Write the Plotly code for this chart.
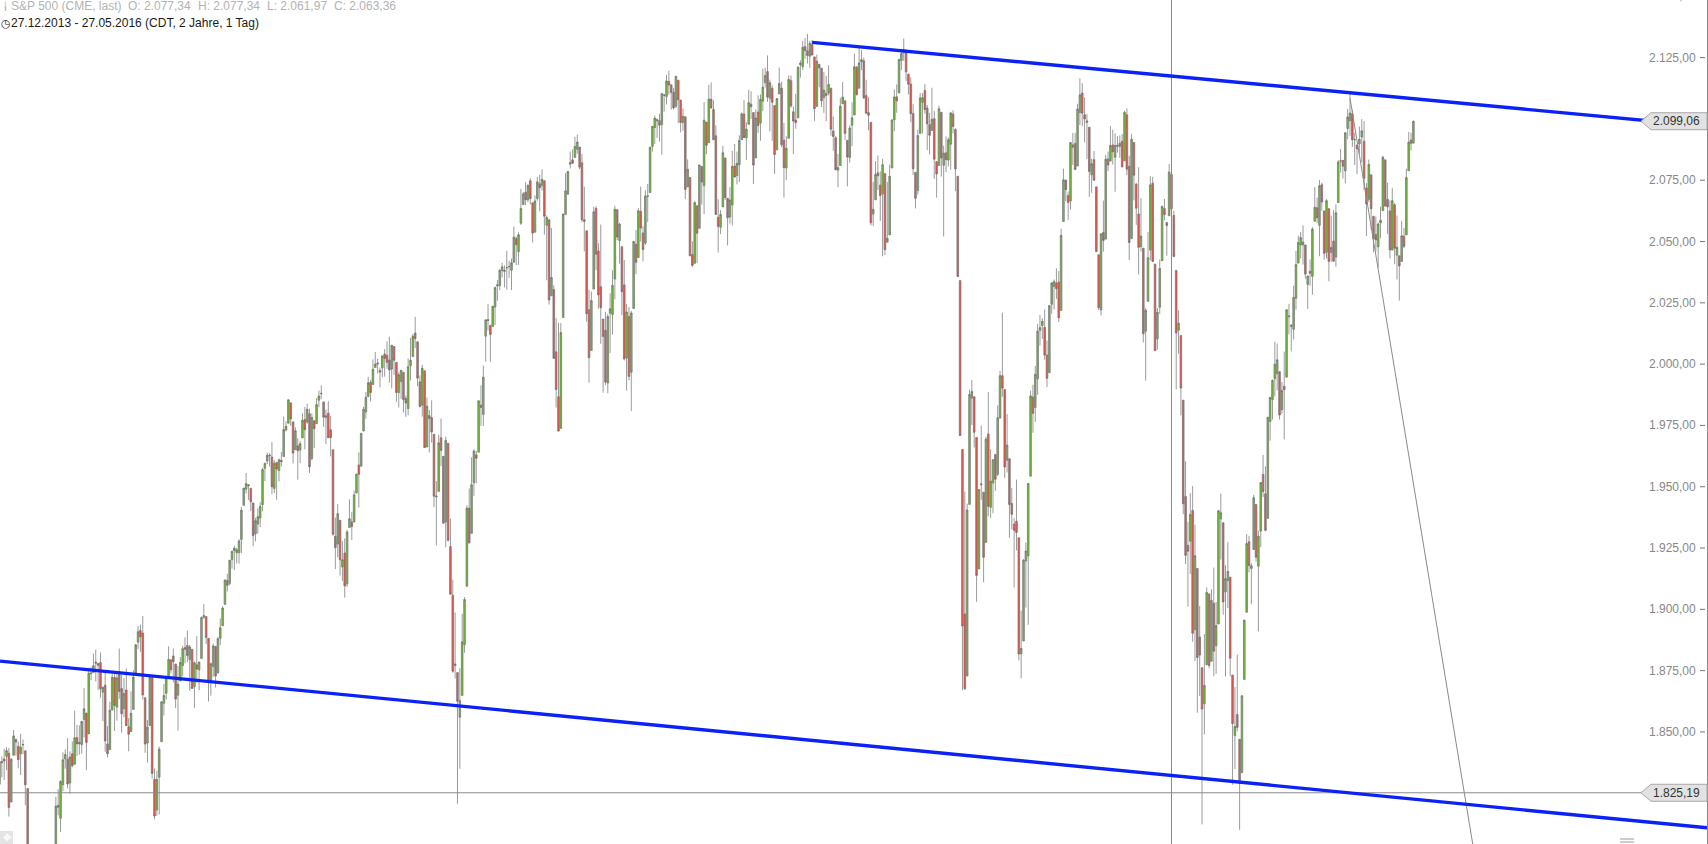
import plotly.graph_objects as go

# ---------------- DATA (S&P 500 daily, 02.01.2014 - 27.05.2016) ----------------
# trading-day slots: Jan 2 2014 is slot 3 (27./30./31.12.2013 occupy 0..2, scrolled out of view)
first_slot = 3

opens = [
    # 2014-01
    1845.9, 1833.2, 1832.3, 1828.7, 1837.9, 1839.0, 1840.1, 1841.3, 1821.4, 1840.5, 1847.0, 1844.2, 1841.1, 1844.7, 1842.3, 1826.9, 1791.0, 1783.8, 1790.2, 1777.2, 1790.9,
    # 2014-02
    1782.7, 1743.8, 1753.4, 1753.0, 1776.0, 1796.2, 1800.4, 1820.1, 1814.8, 1828.5, 1839.0, 1838.9, 1829.2, 1841.1, 1836.8, 1847.7, 1845.8, 1844.9, 1855.1,
    # 2014-03
    1857.7, 1849.2, 1874.1, 1874.2, 1878.5, 1877.9, 1878.3, 1866.2, 1869.1, 1845.1, 1842.8, 1858.9, 1872.3, 1860.1, 1874.5, 1867.7, 1859.5, 1867.1, 1852.1, 1850.1, 1859.2,
    # 2014-04
    1874.0, 1886.6, 1891.4, 1890.3, 1863.9, 1845.5, 1852.6, 1872.3, 1830.7, 1818.2, 1831.5, 1846.0, 1861.7, 1865.8, 1872.6, 1879.3, 1881.0, 1877.7, 1865.0, 1870.8, 1877.1,
    # 2014-05
    1884.4, 1885.3, 1879.5, 1883.7, 1868.5, 1877.4, 1875.3, 1880.0, 1896.8, 1897.1, 1888.2, 1871.2, 1876.7, 1884.9, 1874.0, 1888.2, 1893.3, 1902.0, 1911.8, 1910.6, 1920.3,
    # 2014-06
    1923.9, 1923.1, 1923.1, 1928.5, 1942.4, 1949.0, 1950.3, 1949.4, 1943.4, 1930.8, 1934.8, 1937.2, 1942.7, 1957.5, 1960.5, 1962.9, 1962.1, 1949.3, 1959.9, 1956.6, 1960.8,
    # 2014-07
    1962.3, 1973.1, 1975.9, 1984.2, 1976.4, 1965.1, 1966.7, 1965.0, 1969.9, 1977.4, 1976.4, 1979.8, 1961.5, 1976.9, 1975.7, 1985.3, 1988.1, 1984.6, 1978.3, 1980.0, 1973.2, 1965.1,
    # 2014-08
    1929.8, 1926.6, 1936.3, 1917.3, 1923.0, 1910.4, 1933.4, 1935.7, 1935.6, 1947.4, 1958.9, 1958.4, 1972.7, 1980.5, 1986.8, 1992.6, 1991.7, 1998.6, 2000.5, 1997.4, 1998.5,
    # 2014-09
    2004.1, 2003.6, 2001.7, 1998.0, 2007.2, 2000.7, 1988.4, 1992.9, 1996.7, 1986.0, 1981.9, 1999.3, 2003.1, 2012.7, 2009.1, 1992.8, 1983.3, 1997.3, 1966.2, 1979.0, 1978.2,
    # 2014-10
    1971.4, 1945.8, 1948.1, 1970.0, 1962.4, 1935.6, 1967.7, 1925.6, 1905.7, 1877.1, 1874.2, 1856.0, 1864.9, 1885.6, 1909.4, 1941.3, 1931.0, 1951.6, 1963.0, 1964.1, 1983.3, 1979.5, 2011.4,
    # 2014-11
    2018.2, 2015.8, 2015.3, 2023.3, 2032.4, 2032.0, 2038.2, 2037.8, 2039.2, 2039.7, 2038.3, 2041.5, 2051.2, 2045.9, 2057.5, 2065.1, 2070.1, 2067.0, 2074.8,
    # 2014-12
    2065.8, 2053.8, 2067.5, 2073.6, 2072.8, 2074.8, 2056.6, 2058.9, 2027.9, 2030.4, 2005.0, 1986.7, 1973.8, 2019.0, 2061.0, 2069.3, 2081.5, 2083.3, 2084.3, 2087.6, 2088.5, 2082.1,
    # 2015-01
    2058.9, 2054.4, 2022.2, 2005.6, 2030.6, 2063.5, 2046.1, 2031.6, 2018.4, 2013.8, 1992.3, 2020.8, 2020.2, 2034.7, 2063.0, 2050.4, 2047.9, 2032.3, 2002.5, 2019.4,
    # 2015-02
    1996.7, 2022.7, 2048.9, 2043.5, 2062.3, 2053.5, 2049.4, 2068.6, 2070.0, 2088.8, 2096.5, 2099.2, 2099.3, 2097.7, 2109.8, 2109.1, 2115.3, 2113.9, 2110.9,
    # 2015-03
    2105.2, 2115.8, 2107.7, 2098.5, 2100.9, 2072.3, 2076.1, 2044.7, 2041.1, 2064.6, 2055.4, 2080.6, 2072.8, 2098.7, 2090.3, 2108.0, 2103.9, 2093.1, 2059.9, 2055.8, 2064.1, 2084.1,
    # 2015-04
    2067.6, 2060.0, 2064.9, 2080.8, 2076.9, 2081.3, 2091.5, 2102.0, 2092.3, 2097.8, 2106.0, 2102.6, 2084.1, 2102.8, 2098.3, 2107.2, 2114.8, 2119.3, 2108.4, 2112.5, 2105.5,
    # 2015-05
    2087.4, 2110.2, 2112.6, 2091.3, 2080.0, 2092.1, 2115.6, 2102.9, 2099.6, 2100.4, 2122.1, 2121.3, 2129.5, 2127.8, 2125.6, 2130.4, 2125.3, 2105.1, 2122.3, 2120.7,
    # 2015-06
    2108.6, 2110.4, 2110.6, 2112.4, 2095.1, 2092.3, 2079.1, 2081.0, 2106.2, 2107.4, 2091.3, 2084.3, 2097.4, 2101.6, 2121.1, 2112.5, 2123.2, 2123.7, 2109.6, 2102.6, 2098.6, 2061.2,
    # 2015-07
    2067.0, 2078.0, 2073.0, 2069.5, 2077.7, 2049.7, 2052.7, 2080.0, 2099.7, 2109.0, 2110.6, 2123.8, 2126.9, 2127.6, 2118.2, 2114.2, 2102.2, 2078.2, 2070.8, 2094.1, 2106.8, 2111.6,
    # 2015-08
    2104.5, 2097.7, 2095.3, 2100.1, 2082.6, 2081.0, 2102.7, 2081.1, 2086.2, 2083.2, 2089.7, 2102.0, 2095.7, 2076.6, 2034.1, 1965.2, 1898.1, 1872.8, 1942.8, 1986.1, 1986.7,
    # 2015-09
    1970.1, 1916.5, 1950.8, 1947.8, 1927.3, 1971.5, 1941.6, 1951.5, 1963.1, 1955.1, 1978.0, 1995.3, 1989.7, 1960.8, 1961.4, 1943.2, 1934.8, 1935.9, 1929.2, 1881.9, 1887.1,
    # 2015-10
    1919.7, 1921.8, 1954.3, 1986.6, 1982.3, 1994.0, 2013.7, 2015.7, 2015.0, 2003.7, 1996.5, 2024.4, 2031.7, 2033.1, 2033.5, 2021.9, 2058.2, 2075.1, 2068.8, 2066.5, 2088.4, 2090.0,
    # 2015-11
    2080.8, 2102.6, 2110.6, 2101.7, 2098.6, 2096.6, 2077.2, 2083.4, 2072.3, 2044.6, 2022.1, 2053.7, 2051.0, 2083.7, 2082.8, 2089.4, 2084.4, 2089.3, 2088.8, 2090.9,
    # 2015-12
    2082.9, 2101.7, 2080.7, 2051.2, 2090.4, 2073.4, 2061.2, 2047.9, 2047.3, 2013.4, 2025.6, 2046.5, 2073.8, 2040.8, 2010.3, 2023.2, 2042.2, 2063.5, 2057.8, 2060.5, 2077.34, 2060.6,
    # 2016-01
    2038.2, 2013.8, 2011.7, 1985.3, 1946.0, 1926.1, 1927.8, 1940.3, 1891.7, 1916.7, 1888.7, 1876.2, 1861.5, 1877.4, 1906.3, 1878.8, 1902.5, 1885.2, 1894.0,
    # 2016-02
    1936.9, 1935.3, 1907.1, 1911.7, 1913.1, 1873.2, 1848.5, 1857.1, 1847.0, 1833.4, 1871.4, 1898.8, 1927.6, 1916.7, 1924.4, 1942.8, 1917.6, 1931.9, 1955.0, 1947.1,
    # 2016-03
    1937.1, 1976.6, 1985.6, 1994.0, 1996.1, 1996.9, 1981.4, 1991.0, 1994.7, 2019.3, 2015.3, 2014.2, 2026.9, 2041.2, 2048.6, 2048.6, 2048.6, 2032.5, 2037.9, 2035.8, 2058.3, 2063.8,
    # 2016-04
    2056.6, 2073.2, 2062.5, 2045.6, 2063.4, 2045.5, 2050.2, 2043.7, 2065.9, 2082.9, 2083.1, 2078.8, 2096.1, 2099.3, 2102.1, 2091.5, 2089.4, 2089.8, 2092.6, 2090.9, 2071.8,
    # 2016-05
    2067.2, 2077.2, 2060.3, 2052.9, 2047.8, 2057.6, 2062.6, 2083.3, 2067.2, 2062.5, 2046.5, 2065.0, 2044.4, 2044.2, 2041.9, 2052.2, 2052.7, 2078.9, 2091.4, 2090.1,
]

highs = [
    1845.9, 1838.2, 1837.2, 1840.1, 1840.0, 1843.2, 1843.8, 1843.5, 1839.3, 1850.8, 1847.0, 1846.0, 1849.3, 1846.9, 1842.3, 1826.9, 1795.9, 1793.9, 1790.2, 1798.8, 1793.9,
    1784.8, 1758.7, 1755.8, 1774.1, 1798.0, 1799.9, 1823.5, 1826.6, 1830.3, 1841.7, 1842.9, 1847.5, 1842.1, 1846.1, 1858.7, 1852.9, 1852.7, 1854.5, 1867.9,
    1857.7, 1876.2, 1876.5, 1881.9, 1883.6, 1877.9, 1882.4, 1868.4, 1874.4, 1852.4, 1862.3, 1873.8, 1874.1, 1873.5, 1884.0, 1873.3, 1871.9, 1875.9, 1855.6, 1866.6, 1875.2,
    1885.8, 1893.2, 1893.8, 1897.3, 1864.0, 1854.9, 1872.4, 1872.5, 1835.1, 1834.2, 1844.0, 1862.4, 1869.6, 1871.9, 1884.9, 1879.8, 1884.1, 1877.7, 1877.0, 1880.6, 1885.2,
    1888.6, 1891.3, 1885.5, 1883.7, 1878.8, 1889.1, 1878.6, 1897.1, 1902.2, 1897.1, 1888.2, 1878.3, 1886.0, 1884.9, 1888.8, 1896.3, 1901.3, 1912.3, 1914.5, 1920.1, 1924.0,
    1925.9, 1925.1, 1928.6, 1941.7, 1949.5, 1955.6, 1950.9, 1949.4, 1943.4, 1937.3, 1941.2, 1943.7, 1957.7, 1959.9, 1963.9, 1963.7, 1968.2, 1960.8, 1959.9, 1961.5, 1964.2,
    1978.6, 1976.7, 1985.6, 1984.2, 1976.7, 1974.2, 1969.8, 1968.7, 1979.9, 1982.5, 1983.9, 1981.8, 1979.9, 1976.9, 1986.2, 1989.2, 1991.4, 1984.6, 1981.5, 1984.9, 1978.9, 1965.1,
    1937.4, 1942.9, 1936.3, 1927.9, 1928.9, 1932.4, 1944.9, 1939.7, 1948.4, 1955.2, 1964.0, 1972.0, 1982.6, 1988.6, 1994.8, 1993.5, 2001.9, 2005.0, 2002.1, 1998.6, 2003.4,
    2006.1, 2009.3, 2011.2, 2007.8, 2007.2, 2001.0, 1996.7, 1997.7, 1996.7, 1987.2, 2002.3, 2010.7, 2012.3, 2019.3, 2009.1, 1995.4, 1999.8, 1997.3, 1986.4, 1981.3, 1985.2,
    1971.4, 1952.3, 1971.2, 1977.8, 1962.4, 1970.4, 1967.7, 1937.0, 1912.1, 1898.7, 1874.2, 1876.0, 1898.2, 1905.0, 1942.5, 1949.3, 1962.0, 1965.3, 1964.6, 1985.1, 1991.4, 1999.4, 2018.2,
    2024.5, 2016.0, 2023.8, 2031.6, 2034.3, 2038.7, 2041.3, 2040.3, 2046.2, 2042.2, 2043.1, 2056.1, 2052.1, 2053.8, 2071.5, 2070.2, 2074.2, 2073.4, 2075.8,
    2065.8, 2068.8, 2076.3, 2077.3, 2079.5, 2074.8, 2060.6, 2058.9, 2055.5, 2032.2, 2018.7, 2016.9, 2016.8, 2061.3, 2077.9, 2078.8, 2086.7, 2087.6, 2092.7, 2093.6, 2088.5, 2085.7,
    2072.4, 2054.4, 2030.3, 2029.6, 2064.1, 2064.4, 2049.3, 2056.9, 2018.4, 2021.4, 2020.5, 2028.9, 2038.3, 2064.6, 2063.0, 2057.6, 2047.9, 2042.5, 2024.6, 2023.3,
    2021.7, 2050.3, 2054.7, 2063.6, 2072.4, 2056.2, 2070.9, 2073.5, 2088.5, 2097.0, 2101.3, 2100.2, 2102.1, 2110.6, 2110.1, 2117.9, 2119.6, 2113.9, 2112.7,
    2117.5, 2115.8, 2107.7, 2104.3, 2100.9, 2083.5, 2076.1, 2050.1, 2066.4, 2064.6, 2081.4, 2080.6, 2106.9, 2098.7, 2113.9, 2114.9, 2107.6, 2097.4, 2067.2, 2062.8, 2089.0, 2084.1,
    2067.6, 2072.2, 2087.0, 2089.8, 2086.7, 2093.3, 2102.6, 2107.7, 2098.6, 2111.9, 2111.3, 2102.6, 2103.9, 2109.6, 2110.0, 2120.5, 2120.9, 2125.9, 2116.0, 2113.7, 2105.5,
    2108.4, 2121.0, 2115.2, 2098.4, 2092.9, 2117.7, 2117.7, 2105.1, 2110.2, 2121.5, 2123.9, 2131.8, 2133.0, 2134.7, 2131.8, 2132.2, 2125.3, 2126.2, 2122.3, 2120.7,
    2119.2, 2117.6, 2121.9, 2112.9, 2101.0, 2093.0, 2085.7, 2108.5, 2115.0, 2107.4, 2091.3, 2097.4, 2106.8, 2126.6, 2121.6, 2129.9, 2128.0, 2125.1, 2116.0, 2108.9, 2098.6, 2074.3,
    2082.8, 2085.1, 2078.6, 2083.7, 2077.7, 2074.3, 2081.3, 2099.9, 2112.0, 2114.1, 2124.4, 2128.6, 2132.8, 2128.4, 2118.5, 2116.9, 2106.0, 2078.2, 2095.6, 2110.6, 2110.5, 2114.2,
    2105.7, 2102.5, 2112.7, 2103.3, 2082.6, 2105.4, 2102.7, 2089.1, 2092.9, 2092.5, 2102.9, 2103.5, 2096.2, 2076.6, 2034.1, 1965.2, 1948.0, 1943.1, 1989.6, 1993.5, 1986.7,
    1970.1, 1948.9, 1975.0, 1947.8, 1970.4, 1988.6, 1965.3, 1961.1, 1963.1, 1983.2, 1997.3, 2020.9, 1989.7, 1979.6, 1961.4, 1949.5, 1937.2, 1952.9, 1929.2, 1899.5, 1920.5,
    1927.2, 1951.4, 1989.2, 1991.6, 1999.3, 2016.5, 2020.1, 2018.7, 2022.3, 2009.6, 2024.2, 2033.5, 2034.5, 2039.1, 2038.0, 2055.2, 2079.7, 2075.1, 2070.4, 2090.4, 2094.3, 2094.3,
    2106.2, 2116.5, 2114.6, 2108.8, 2101.9, 2096.6, 2083.7, 2086.9, 2072.3, 2044.6, 2053.2, 2066.7, 2085.3, 2086.7, 2097.1, 2095.6, 2094.1, 2093.0, 2093.3, 2093.8,
    2103.4, 2104.3, 2085.0, 2093.8, 2090.4, 2073.9, 2080.3, 2067.7, 2047.3, 2022.9, 2053.9, 2076.7, 2076.4, 2040.8, 2022.9, 2042.7, 2064.7, 2067.4, 2057.8, 2081.6, 2077.34, 2062.5,
    2038.2, 2021.9, 2011.7, 1985.3, 1960.4, 1935.7, 1947.4, 1950.3, 1934.5, 1916.7, 1901.4, 1876.2, 1889.9, 1908.9, 1906.3, 1908.2, 1917.0, 1903.0, 1940.3,
    1947.2, 1935.3, 1918.0, 1927.4, 1913.1, 1873.2, 1868.3, 1881.6, 1847.0, 1864.8, 1895.8, 1930.7, 1930.0, 1918.8, 1946.7, 1942.8, 1932.1, 1951.8, 1963.0, 1958.3,
    1978.4, 1986.5, 1993.7, 2009.1, 2008.4, 1996.9, 1992.7, 2005.1, 2022.4, 2024.6, 2016.3, 2032.0, 2046.2, 2052.4, 2053.9, 2056.6, 2048.6, 2036.0, 2042.7, 2055.9, 2072.2, 2067.9,
    2075.1, 2074.0, 2062.5, 2067.3, 2063.4, 2060.6, 2062.9, 2065.1, 2083.2, 2087.8, 2083.2, 2094.7, 2104.1, 2111.1, 2103.8, 2094.3, 2089.4, 2096.9, 2099.9, 2099.1, 2073.8,
    2083.4, 2077.2, 2060.3, 2060.2, 2057.7, 2064.2, 2084.9, 2083.3, 2074.0, 2066.8, 2071.9, 2065.7, 2060.6, 2044.2, 2058.4, 2055.6, 2079.7, 2094.7, 2094.3, 2099.3,
]

lows = [
    1827.7, 1829.1, 1823.7, 1828.7, 1831.4, 1830.4, 1834.4, 1815.5, 1821.4, 1840.5, 1840.3, 1835.2, 1832.4, 1840.9, 1820.1, 1790.2, 1772.9, 1783.8, 1770.5, 1777.2, 1772.3,
    1739.7, 1743.8, 1737.9, 1753.0, 1776.0, 1791.8, 1800.4, 1816.0, 1809.2, 1825.8, 1835.0, 1827.0, 1824.9, 1835.6, 1836.8, 1840.2, 1840.7, 1841.1, 1847.7,
    1834.4, 1849.2, 1871.1, 1874.2, 1870.6, 1867.0, 1863.9, 1854.4, 1841.9, 1839.6, 1842.8, 1858.9, 1850.4, 1854.6, 1863.5, 1849.7, 1856.0, 1852.5, 1842.1, 1850.1, 1859.2,
    1874.0, 1883.8, 1882.7, 1863.3, 1841.5, 1837.5, 1852.4, 1830.9, 1814.4, 1815.8, 1816.3, 1846.0, 1856.7, 1863.2, 1872.6, 1873.9, 1870.2, 1859.7, 1850.6, 1870.8, 1872.7,
    1878.0, 1878.5, 1866.8, 1867.7, 1859.8, 1870.1, 1867.0, 1880.0, 1896.1, 1885.8, 1862.4, 1864.8, 1872.4, 1868.1, 1874.0, 1885.4, 1893.3, 1902.0, 1907.3, 1909.8, 1916.6,
    1916.0, 1918.8, 1918.6, 1922.9, 1942.4, 1947.2, 1944.6, 1940.1, 1925.8, 1927.7, 1930.9, 1933.6, 1940.0, 1952.3, 1959.2, 1958.2, 1947.0, 1947.5, 1944.7, 1952.2, 1958.2,
    1962.3, 1972.6, 1975.9, 1974.9, 1959.5, 1965.1, 1952.9, 1959.6, 1969.9, 1965.3, 1975.7, 1955.6, 1960.8, 1965.8, 1975.7, 1982.4, 1985.8, 1974.4, 1967.3, 1969.9, 1962.4, 1930.0,
    1916.4, 1921.2, 1913.8, 1911.5, 1904.8, 1909.0, 1933.4, 1928.3, 1935.6, 1947.4, 1941.5, 1958.4, 1972.7, 1977.7, 1986.8, 1984.8, 1991.7, 1998.6, 1996.2, 1990.5, 1994.7,
    1994.9, 1998.1, 1992.5, 1990.1, 1995.6, 1984.6, 1982.3, 1985.9, 1980.3, 1978.5, 1979.1, 1993.3, 2003.1, 2006.6, 1991.0, 1982.3, 1978.6, 1965.9, 1966.2, 1964.0, 1968.0,
    1941.7, 1926.0, 1948.1, 1958.4, 1935.1, 1925.3, 1927.6, 1906.1, 1874.1, 1871.8, 1820.7, 1835.0, 1864.9, 1882.3, 1909.4, 1926.8, 1931.0, 1946.3, 1951.4, 1964.1, 1974.8, 1974.8, 2001.0,
    2013.7, 2001.0, 2015.3, 2015.9, 2025.8, 2030.2, 2035.3, 2031.3, 2030.4, 2035.2, 2030.2, 2041.5, 2040.4, 2040.5, 2056.8, 2065.1, 2064.8, 2066.0, 2065.1,
    2049.6, 2053.8, 2066.6, 2062.3, 2070.8, 2052.8, 2034.2, 2024.3, 2027.9, 2002.3, 1982.3, 1972.6, 1973.8, 2019.0, 2061.0, 2069.3, 2079.8, 2081.8, 2084.3, 2085.8, 2079.5, 2057.9,
    2046.0, 2017.3, 1992.4, 2005.6, 2030.6, 2038.3, 2022.6, 2008.3, 1988.4, 1991.5, 1988.1, 2004.5, 2012.0, 2026.4, 2050.5, 2041.0, 2019.9, 2001.5, 1989.2, 1993.4,
    1980.9, 2022.7, 2036.7, 2043.5, 2050.0, 2041.9, 2048.6, 2058.0, 2070.0, 2086.7, 2089.8, 2092.2, 2090.8, 2085.4, 2103.0, 2105.9, 2109.9, 2103.8, 2103.8,
    2104.5, 2098.3, 2094.5, 2095.2, 2067.3, 2072.2, 2044.1, 2039.7, 2041.1, 2041.2, 2055.4, 2065.1, 2061.2, 2085.6, 2090.3, 2104.4, 2091.5, 2061.0, 2045.5, 2053.0, 2064.1, 2067.0,
    2048.4, 2057.3, 2056.5, 2076.1, 2073.3, 2074.3, 2091.5, 2092.3, 2083.2, 2097.8, 2100.0, 2073.5, 2084.1, 2094.4, 2091.1, 2103.2, 2112.8, 2107.0, 2094.9, 2091.1, 2077.6,
    2087.4, 2110.2, 2088.5, 2067.9, 2075.0, 2092.1, 2104.6, 2085.6, 2096.0, 2100.4, 2116.8, 2120.0, 2124.5, 2122.6, 2120.9, 2126.0, 2099.2, 2105.1, 2112.9, 2104.9,
    2102.5, 2099.1, 2109.6, 2093.2, 2087.0, 2079.1, 2072.1, 2081.0, 2106.2, 2091.3, 2072.5, 2082.1, 2088.9, 2101.6, 2109.5, 2112.5, 2119.9, 2108.2, 2102.0, 2095.4, 2056.6, 2056.3,
    2067.0, 2071.0, 2058.4, 2044.0, 2044.5, 2049.7, 2052.7, 2080.0, 2095.0, 2102.5, 2110.6, 2119.9, 2123.7, 2115.4, 2110.0, 2098.6, 2077.1, 2063.5, 2069.1, 2094.1, 2094.1, 2102.1,
    2087.3, 2085.5, 2095.3, 2075.5, 2067.9, 2081.0, 2076.5, 2052.1, 2078.3, 2080.6, 2079.3, 2094.1, 2070.5, 2035.7, 1970.8, 1867.0, 1867.1, 1872.8, 1942.8, 1975.2, 1966.0,
    1903.1, 1916.5, 1944.7, 1911.0, 1927.3, 1937.9, 1937.2, 1939.2, 1948.3, 1954.3, 1977.9, 1986.7, 1953.5, 1955.8, 1929.2, 1932.6, 1908.9, 1924.0, 1879.2, 1871.9, 1887.1,
    1900.7, 1893.7, 1954.3, 1972.0, 1976.4, 1987.5, 2007.6, 2010.3, 2001.8, 1990.7, 1996.5, 2020.5, 2022.3, 2026.6, 2017.2, 2021.9, 2058.2, 2066.5, 2058.8, 2063.1, 2081.2, 2079.3,
    2080.8, 2097.5, 2097.0, 2090.4, 2083.7, 2068.2, 2069.9, 2074.9, 2045.7, 2022.0, 2019.9, 2045.9, 2051.0, 2078.8, 2082.8, 2081.4, 2070.3, 2086.3, 2084.1, 2080.4,
    2082.9, 2077.1, 2042.4, 2051.2, 2066.8, 2056.8, 2036.5, 2045.9, 2008.8, 1993.3, 2025.6, 2042.4, 2041.7, 2005.3, 2005.9, 2020.5, 2042.2, 2058.7, 2044.2, 2060.5, 2061.97, 2043.6,
    1989.7, 2004.2, 1979.1, 1938.8, 1918.5, 1901.1, 1914.4, 1886.8, 1878.9, 1857.8, 1864.6, 1812.3, 1849.0, 1877.4, 1876.0, 1878.8, 1872.7, 1873.7, 1894.0,
    1920.3, 1897.8, 1872.7, 1900.5, 1872.7, 1828.5, 1834.9, 1850.3, 1810.1, 1833.4, 1871.4, 1898.8, 1915.1, 1902.2, 1924.4, 1919.4, 1891.0, 1925.4, 1945.8, 1931.8,
    1937.1, 1968.8, 1977.4, 1986.8, 1989.3, 1977.4, 1979.8, 1969.3, 1994.7, 2012.1, 2005.2, 2010.0, 2022.2, 2041.2, 2043.1, 2040.6, 2034.9, 2022.5, 2031.9, 2028.3, 2058.3, 2057.5,
    2044.0, 2062.6, 2042.6, 2043.1, 2033.8, 2041.7, 2041.9, 2039.7, 2065.9, 2078.1, 2075.7, 2073.7, 2091.7, 2093.1, 2088.5, 2081.2, 2077.5, 2085.8, 2082.3, 2070.9, 2052.3,
    2066.1, 2054.9, 2045.6, 2045.8, 2039.5, 2051.3, 2062.6, 2064.4, 2053.1, 2043.1, 2046.5, 2040.8, 2034.5, 2025.9, 2041.9, 2047.3, 2052.7, 2078.9, 2087.1, 2090.1,
]

closes = [
    1831.98, 1831.37, 1826.77, 1837.88, 1837.49, 1838.13, 1842.37, 1819.20, 1838.88, 1848.38, 1845.89, 1838.70, 1843.80, 1844.86, 1828.46, 1790.29, 1781.56, 1792.50, 1774.20, 1794.19, 1782.59,
    1741.89, 1755.20, 1751.64, 1773.43, 1797.02, 1799.84, 1819.75, 1819.26, 1829.83, 1838.63, 1840.76, 1828.75, 1839.78, 1836.25, 1847.61, 1845.12, 1845.16, 1854.29, 1859.45,
    1845.73, 1873.91, 1873.81, 1877.03, 1878.04, 1877.17, 1867.63, 1868.20, 1846.34, 1841.13, 1858.83, 1872.25, 1860.77, 1872.01, 1866.52, 1857.44, 1865.62, 1852.56, 1849.04, 1857.62, 1872.34,
    1885.52, 1890.90, 1888.77, 1865.09, 1845.04, 1851.96, 1872.18, 1833.08, 1815.69, 1830.61, 1842.98, 1862.31, 1864.85, 1871.89, 1879.55, 1875.39, 1878.61, 1863.40, 1869.43, 1878.33, 1883.95,
    1883.68, 1881.14, 1884.66, 1867.72, 1878.21, 1875.63, 1878.48, 1896.65, 1897.45, 1888.53, 1870.85, 1877.86, 1885.08, 1872.83, 1888.03, 1892.49, 1900.53, 1911.91, 1909.78, 1920.03, 1923.57,
    1924.97, 1924.24, 1927.88, 1940.46, 1949.44, 1951.27, 1950.79, 1943.89, 1930.11, 1936.16, 1937.78, 1941.99, 1956.98, 1959.48, 1962.87, 1962.61, 1949.98, 1959.53, 1957.22, 1960.96, 1960.23,
    1973.32, 1974.62, 1985.44, 1977.65, 1963.71, 1972.83, 1964.68, 1967.57, 1977.10, 1973.28, 1981.57, 1958.12, 1978.22, 1973.63, 1983.53, 1987.01, 1987.98, 1978.34, 1978.91, 1969.95, 1970.07, 1930.67,
    1925.15, 1938.99, 1920.21, 1920.24, 1909.57, 1931.59, 1936.92, 1933.75, 1946.72, 1955.18, 1955.06, 1971.74, 1981.60, 1986.51, 1992.37, 1988.40, 1997.92, 2000.02, 2000.12, 1996.74, 2003.37,
    2002.28, 2000.72, 1997.65, 2007.71, 2001.54, 1988.44, 1995.69, 1997.45, 1985.54, 1984.13, 1998.98, 2001.57, 2011.36, 2010.40, 1994.29, 1982.77, 1998.30, 1965.99, 1982.85, 1977.80, 1972.29,
    1946.16, 1946.17, 1967.90, 1964.82, 1935.10, 1968.89, 1928.21, 1906.13, 1874.74, 1877.70, 1862.49, 1862.76, 1886.76, 1904.01, 1941.28, 1927.11, 1950.82, 1964.58, 1961.63, 1985.05, 1982.30, 1994.65, 2018.05,
    2017.81, 2012.10, 2023.57, 2031.21, 2031.92, 2038.26, 2039.68, 2038.25, 2039.33, 2039.82, 2041.32, 2051.80, 2048.72, 2052.75, 2063.50, 2069.41, 2067.03, 2072.83, 2067.56,
    2053.44, 2066.55, 2074.33, 2071.92, 2075.37, 2060.31, 2059.82, 2026.14, 2035.33, 2002.33, 1989.63, 1972.74, 2012.89, 2061.23, 2070.65, 2078.54, 2082.17, 2081.88, 2088.77, 2090.57, 2080.35, 2058.90,
    2058.20, 2020.58, 2002.61, 2025.90, 2062.14, 2044.81, 2028.26, 2023.03, 2011.27, 1992.67, 2019.42, 2022.55, 2032.12, 2063.15, 2051.82, 2057.09, 2029.55, 2002.16, 2021.25, 1994.99,
    2020.85, 2050.03, 2041.51, 2062.52, 2055.47, 2046.74, 2068.59, 2068.53, 2088.48, 2096.99, 2100.34, 2099.68, 2097.45, 2110.30, 2109.66, 2115.48, 2113.86, 2110.74, 2104.50,
    2117.39, 2107.78, 2098.53, 2101.04, 2071.26, 2079.43, 2044.16, 2040.24, 2065.95, 2053.40, 2081.19, 2074.28, 2099.50, 2089.27, 2108.10, 2104.42, 2091.50, 2061.05, 2056.15, 2061.02, 2086.24, 2067.89,
    2059.69, 2066.96, 2080.62, 2076.33, 2081.90, 2091.18, 2102.06, 2092.43, 2095.84, 2106.63, 2104.99, 2081.18, 2100.40, 2097.29, 2107.96, 2112.93, 2117.69, 2108.92, 2114.76, 2106.85, 2085.51,
    2108.29, 2114.49, 2089.46, 2080.15, 2088.00, 2116.10, 2105.33, 2099.12, 2098.48, 2121.10, 2122.73, 2129.20, 2127.83, 2125.85, 2130.82, 2126.06, 2104.20, 2123.48, 2120.79, 2107.39,
    2111.73, 2109.60, 2114.07, 2095.84, 2092.83, 2079.28, 2080.15, 2105.20, 2108.86, 2094.11, 2084.43, 2096.29, 2100.44, 2121.24, 2109.99, 2122.85, 2124.20, 2108.58, 2102.31, 2101.49, 2057.64, 2063.11,
    2077.42, 2076.78, 2068.76, 2081.34, 2046.68, 2051.31, 2076.62, 2099.60, 2108.95, 2107.40, 2124.29, 2126.64, 2128.28, 2119.21, 2114.15, 2102.15, 2079.65, 2067.64, 2093.25, 2108.57, 2108.63, 2103.84,
    2098.04, 2093.32, 2099.84, 2083.56, 2077.57, 2104.18, 2084.07, 2086.05, 2083.39, 2091.54, 2102.44, 2096.92, 2079.61, 2035.73, 1970.89, 1893.21, 1867.61, 1940.51, 1987.66, 1988.87, 1972.18,
    1913.85, 1948.86, 1951.13, 1921.22, 1969.41, 1942.04, 1952.29, 1961.05, 1953.03, 1978.09, 1995.31, 1990.20, 1958.03, 1966.97, 1942.74, 1938.76, 1932.24, 1931.34, 1881.77, 1884.09, 1920.03,
    1923.82, 1951.36, 1987.05, 1979.92, 1995.83, 2013.43, 2014.89, 2017.46, 2003.69, 1994.24, 2023.86, 2033.11, 2033.66, 2030.77, 2018.94, 2052.51, 2075.15, 2071.18, 2065.89, 2090.35, 2089.41, 2079.36,
    2104.05, 2109.79, 2102.31, 2099.93, 2099.20, 2078.58, 2081.72, 2075.00, 2045.97, 2023.04, 2053.19, 2050.44, 2083.58, 2081.24, 2089.17, 2086.59, 2089.14, 2088.87, 2090.11, 2080.41,
    2102.63, 2079.51, 2049.62, 2091.69, 2077.07, 2063.59, 2047.62, 2052.23, 2012.37, 2021.94, 2043.41, 2073.07, 2041.89, 2005.55, 2021.15, 2038.97, 2064.29, 2060.99, 2056.50, 2078.36, 2063.36, 2043.94,
    2012.66, 2016.71, 1990.26, 1943.09, 1922.03, 1923.67, 1938.68, 1890.28, 1921.84, 1880.33, 1881.33, 1859.33, 1868.99, 1906.90, 1877.08, 1903.63, 1882.95, 1893.36, 1940.24,
    1939.38, 1903.03, 1912.53, 1915.45, 1880.05, 1853.44, 1852.21, 1851.86, 1829.08, 1864.78, 1895.58, 1926.82, 1917.83, 1917.78, 1945.50, 1921.27, 1929.80, 1951.70, 1948.05, 1932.23,
    1978.35, 1986.45, 1993.40, 1999.99, 2001.76, 1979.26, 1989.26, 1989.57, 2022.19, 2019.64, 2015.93, 2027.22, 2040.59, 2049.58, 2051.60, 2049.80, 2036.71, 2035.94, 2037.05, 2055.01, 2063.95, 2059.74,
    2072.78, 2066.13, 2045.17, 2066.66, 2041.91, 2047.60, 2041.99, 2061.72, 2082.42, 2082.78, 2080.73, 2094.34, 2100.80, 2102.40, 2091.48, 2091.58, 2087.79, 2091.70, 2095.15, 2075.81, 2065.30,
    2081.43, 2063.37, 2051.12, 2050.63, 2057.14, 2058.69, 2084.39, 2064.46, 2064.11, 2046.61, 2066.66, 2047.21, 2047.63, 2040.04, 2052.32, 2048.04, 2076.06, 2090.54, 2090.10, 2099.06,
]

# y-axis ticks (German number format); 2.100,00 is hidden behind the last-price tag
tick_values = [1850, 1875, 1900, 1925, 1950, 1975, 2000, 2025, 2050, 2075, 2125, 2150]
tick_labels = ["1.850,00", "1.875,00", "1.900,00", "1.925,00", "1.950,00", "1.975,00",
               "2.000,00", "2.025,00", "2.050,00", "2.075,00", "2.125,00", "2.150,00"]

# drawn lines (slot, price)
upper_trend = [(352.0, 2131.2), (733.0, 2097.0)]
lower_trend = [(6.22, 1878.9), (733.0, 1810.9)]
steep_line = [(581.0, 2108.5), (640.0, 1765.0)]
horizontal_level = 1825.19
last_close_label = 2099.06
crosshair_slot = 505  # 30.12.2015

header_title = "S&P 500 (CME, last)"
header_ohlc = ["O: 2.077,34", "H: 2.077,34", "L: 2.061,97", "C: 2.063,36"]
header_range = "27.12.2013 - 27.05.2016 (CDT, 2 Jahre, 1 Tag)"

# ---------------- FIGURE ----------------
W, H = 1708, 844
Y_MIN, Y_MAX = 1804.3, 2148.5
X_MIN, X_MAX = 6.22, 733.0
PLOT_W = W - 1

positions = list(range(first_slot, first_slot + len(closes)))

GRAY = "#707070"
GREEN = "#6cc030"
RED = "#f2524a"
BLUE = "#0a22f5"
FONT = "Liberation Sans, Arial, sans-serif"

fig = go.Figure()
fig.add_trace(go.Candlestick(
    x=positions, open=opens, high=highs, low=lows, close=closes,
    increasing=dict(line=dict(color=GRAY, width=0.7), fillcolor=GREEN),
    decreasing=dict(line=dict(color=GRAY, width=0.7), fillcolor=RED),
    whiskerwidth=0, hoverinfo="skip", showlegend=False,
))

shapes = []
annotations = []
# crosshair vertical
shapes.append(dict(type="line", xref="x", yref="paper", x0=crosshair_slot, x1=crosshair_slot,
                   y0=0, y1=1, line=dict(color="#8a8a8a", width=1)))
# horizontal level line
tip_px, box_px = 1641, 1651
shapes.append(dict(type="line", xref="paper", yref="y", x0=0, x1=tip_px / PLOT_W,
                   y0=horizontal_level, y1=horizontal_level, line=dict(color="#8a8a8a", width=1)))
# steep gray line
shapes.append(dict(type="line", xref="x", yref="y", x0=steep_line[0][0], y0=steep_line[0][1],
                   x1=steep_line[1][0], y1=steep_line[1][1], line=dict(color="#8a8a8a", width=1)))
# blue trend lines
for (xa, ya), (xb, yb) in (upper_trend, lower_trend):
    shapes.append(dict(type="line", xref="x", yref="y", x0=xa, y0=ya, x1=xb, y1=yb,
                       line=dict(color=BLUE, width=3.4)))

# right-side tick labels and tick dashes (drawn inside the plot)
for v, t in zip(tick_values, tick_labels):
    yp = (v - Y_MIN) / (Y_MAX - Y_MIN)
    annotations.append(dict(xref="paper", yref="paper", x=1698 / PLOT_W, y=yp, text=t, showarrow=False,
                            xanchor="right", yanchor="middle",
                            font=dict(family=FONT, size=12, color="#888888")))
    shapes.append(dict(type="line", xref="paper", yref="paper", x0=1700 / PLOT_W, x1=1705 / PLOT_W,
                       y0=yp, y1=yp, line=dict(color="#777777", width=1)))

# price tags
half = 8.5 * (Y_MAX - Y_MIN) / H
for val in (last_close_label, horizontal_level):
    xt, xb_, xr = tip_px / PLOT_W, box_px / PLOT_W, 1.0
    path = (f"M {xt},{val} L {xb_},{val + half} L {xr},{val + half} "
            f"L {xr},{val - half} L {xb_},{val - half} Z")
    shapes.append(dict(type="path", xref="paper", yref="y", path=path,
                       fillcolor="#e2e2e2", line=dict(color="#a8a8a8", width=1)))
    txt = f"{val:,.2f}".replace(",", "X").replace(".", ",").replace("X", ".")
    annotations.append(dict(xref="paper", yref="y", x=1702 / PLOT_W, y=val, text=txt,
                            showarrow=False, xanchor="right", yanchor="middle",
                            font=dict(family=FONT, size=12, color="#333333")))

# header
y1 = 1 - 6 / H
y2 = 1 - 23 / H
annotations.append(dict(xref="paper", yref="paper", x=1 / PLOT_W, y=y1, text="╽", showarrow=False,
                        xanchor="left", yanchor="middle", font=dict(family="DejaVu Sans", size=8, color="#b5b5b5")))
annotations.append(dict(xref="paper", yref="paper", x=9 / PLOT_W, y=y1, text=header_title, showarrow=False,
                        xanchor="left", yanchor="middle", font=dict(family=FONT, size=12, color="#b3b3b3")))
for px, t in zip((126, 196, 265, 332), header_ohlc):
    annotations.append(dict(xref="paper", yref="paper", x=px / PLOT_W, y=y1, text=t, showarrow=False,
                            xanchor="left", yanchor="middle", font=dict(family=FONT, size=12, color="#b3b3b3")))
annotations.append(dict(xref="paper", yref="paper", x=-1 / PLOT_W, y=y2, text="◷", showarrow=False,
                        xanchor="left", yanchor="middle", font=dict(family="DejaVu Sans", size=11, color="#222222")))
annotations.append(dict(xref="paper", yref="paper", x=9 / PLOT_W, y=y2, text=header_range, showarrow=False,
                        xanchor="left", yanchor="middle", font=dict(family=FONT, size=12, color="#1a1a1a")))

# bottom-left move icon
shapes.append(dict(type="rect", xref="paper", yref="paper", x0=0, x1=13 / PLOT_W, y0=0, y1=13 / H,
                   fillcolor="#e4e4e4", line=dict(width=0)))
annotations.append(dict(xref="paper", yref="paper", x=6.5 / PLOT_W, y=6.5 / H, text="✥", showarrow=False,
                        xanchor="center", yanchor="middle", font=dict(family="DejaVu Sans", size=10, color="#ffffff")))
# bottom-right handle icon
for yy in (5, 2):
    shapes.append(dict(type="line", xref="paper", yref="paper", x0=1620 / PLOT_W, x1=1634 / PLOT_W,
                       y0=yy / H, y1=yy / H, line=dict(color="#9a9a9a", width=1)))

fig.update_layout(
    width=W, height=H,
    margin=dict(l=0, r=1, t=0, b=0),
    paper_bgcolor="white", plot_bgcolor="white",
    boxgap=0.0,
    showlegend=False, hovermode=False,
    shapes=shapes, annotations=annotations,
    xaxis=dict(range=[X_MIN, X_MAX], visible=False, rangeslider=dict(visible=False),
               showgrid=False, zeroline=False, fixedrange=True),
    yaxis=dict(range=[Y_MIN, Y_MAX], side="right", showticklabels=False, ticks="",
               showline=True, linecolor="#8a8a8a", linewidth=1, showgrid=False, zeroline=False,
               fixedrange=True),
)

fig.write_html("out.html", config={"displayModeBar": False},
               post_script="document.body.style.margin='0';document.body.style.overflow='hidden';")
